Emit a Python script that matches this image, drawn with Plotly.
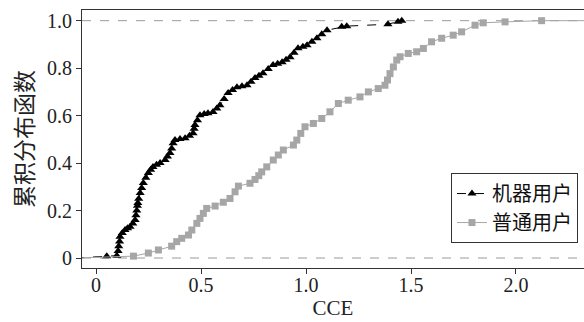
import plotly.graph_objects as go

# Machine users (black triangles) - CDF points
machine_x = [-0.10, 0.051, 0.099, 0.105, 0.108, 0.112, 0.114, 0.125, 0.138, 0.150, 0.162, 0.175, 0.186,
             0.190, 0.194, 0.197, 0.199, 0.203, 0.210, 0.217, 0.225, 0.237, 0.249, 0.260, 0.271,
             0.288, 0.305, 0.329, 0.340, 0.352, 0.360, 0.367, 0.376, 0.400, 0.424, 0.445, 0.462,
             0.467, 0.471, 0.483, 0.495, 0.515, 0.533, 0.557, 0.575, 0.590, 0.610, 0.629, 0.650,
             0.671, 0.695, 0.719, 0.738, 0.757, 0.776, 0.795, 0.820, 0.843, 0.865, 0.886, 0.905,
             0.924, 0.943, 0.962, 0.985, 1.005, 1.028, 1.052, 1.075, 1.100, 1.170, 1.194, 1.390,
             1.438, 1.456]
machine_y = [0.0, 0.008, 0.010, 0.030, 0.050, 0.070, 0.090, 0.105, 0.118, 0.125, 0.132, 0.145, 0.160,
             0.180, 0.200, 0.220, 0.232, 0.250, 0.274, 0.295, 0.316, 0.338, 0.358, 0.372, 0.384,
             0.393, 0.400, 0.413, 0.428, 0.442, 0.462, 0.484, 0.497, 0.501, 0.505, 0.515, 0.526,
             0.545, 0.560, 0.580, 0.602, 0.607, 0.610, 0.615, 0.630, 0.644, 0.670, 0.695, 0.708,
             0.720, 0.724, 0.728, 0.743, 0.758, 0.768, 0.779, 0.796, 0.813, 0.819, 0.825, 0.835,
             0.846, 0.865, 0.884, 0.890, 0.897, 0.911, 0.926, 0.943, 0.960, 0.974, 0.977, 0.985,
             0.995, 1.000]

# Ordinary users (gray squares)
normal_x = [-0.10, 0.178, 0.249, 0.297, 0.360, 0.384, 0.408, 0.440, 0.456, 0.480, 0.495, 0.511, 0.527,
            0.567, 0.606, 0.638, 0.662, 0.678, 0.733, 0.757, 0.775, 0.789, 0.813, 0.844, 0.868,
            0.892, 0.940, 0.956, 0.975, 0.995, 1.035, 1.075, 1.114, 1.154, 1.201, 1.257, 1.297,
            1.344, 1.376, 1.388, 1.400, 1.416, 1.432, 1.448, 1.487, 1.527, 1.559, 1.598, 1.646,
            1.701, 1.741, 1.805, 1.844, 1.948, 2.122, 2.500]
normal_y = [0.0, 0.008, 0.021, 0.034, 0.050, 0.069, 0.083, 0.097, 0.118, 0.146, 0.167, 0.188, 0.209,
            0.219, 0.235, 0.251, 0.279, 0.303, 0.315, 0.331, 0.347, 0.363, 0.384, 0.413, 0.434,
            0.455, 0.476, 0.497, 0.525, 0.553, 0.567, 0.588, 0.616, 0.651, 0.665, 0.679, 0.700,
            0.714, 0.728, 0.750, 0.777, 0.805, 0.834, 0.848, 0.862, 0.869, 0.883, 0.911, 0.926,
            0.939, 0.953, 0.981, 0.991, 0.995, 1.000, 1.000]

x_ticks = [0, 0.5, 1.0, 1.5, 2.0]
x_ticklabels = ["0", "0.5", "1.0", "1.5", "2.0"]
y_ticks = [0, 0.2, 0.4, 0.6, 0.8, 1.0]
y_ticklabels = ["0", "0.2", "0.4", "0.6", "0.8", "1.0"]

FONT = "Liberation Serif"
CJK = "Noto Sans CJK SC"

fig = go.Figure()
fig.add_trace(go.Scatter(
    x=machine_x, y=machine_y, mode="lines+markers", name="机器用户",
    line=dict(color="black", width=1, dash="dash"),
    marker=dict(symbol="triangle-up", size=8, color="black"),
))
fig.add_trace(go.Scatter(
    x=normal_x, y=normal_y, mode="lines+markers", name="普通用户",
    line=dict(color="#a6a6a6", width=1),
    marker=dict(symbol="square", size=7, color="#a6a6a6"),
))

for yv in [0, 1]:
    fig.add_shape(type="line", xref="x domain", yref="y", x0=0, x1=1, y0=yv, y1=yv,
                  line=dict(color="#9a9a9a", width=1, dash="dash"), layer="below")

fig.update_layout(
    width=584, height=322,
    margin=dict(l=82, r=0, t=10, b=54),
    paper_bgcolor="white", plot_bgcolor="white",
    font=dict(family=FONT, color="#222", size=19),
    showlegend=True,
    legend=dict(
        x=0.988, y=0.368, xanchor="right", yanchor="top",
        bordercolor="#333", borderwidth=1, bgcolor="white",
        font=dict(family=CJK, size=20, color="#111"),
        itemwidth=30, tracegroupgap=0,
    ),
)
fig.update_xaxes(
    range=[-0.067, 2.324], tickvals=x_ticks, ticktext=x_ticklabels,
    showgrid=False, zeroline=False, showline=True, linecolor="#333", linewidth=1,
    mirror=True, ticks="outside", ticklen=5, tickcolor="#333",
    tickfont=dict(family=FONT, size=20, color="#222"),
    ticklabelstandoff=-6,
    title=dict(text="CCE", font=dict(family=FONT, size=21, color="#222"), standoff=4),
)
fig.update_yaxes(
    range=[-0.042, 1.045], tickvals=y_ticks, ticktext=y_ticklabels,
    showgrid=False, zeroline=False, showline=True, linecolor="#333", linewidth=1,
    ticks="outside", ticklen=5, tickcolor="#333",
    tickfont=dict(family=FONT, size=20, color="#222"),
    title=dict(text="累积分布函数", font=dict(family=CJK, size=23, color="#222"), standoff=6),
)

fig.write_html("out.html")
